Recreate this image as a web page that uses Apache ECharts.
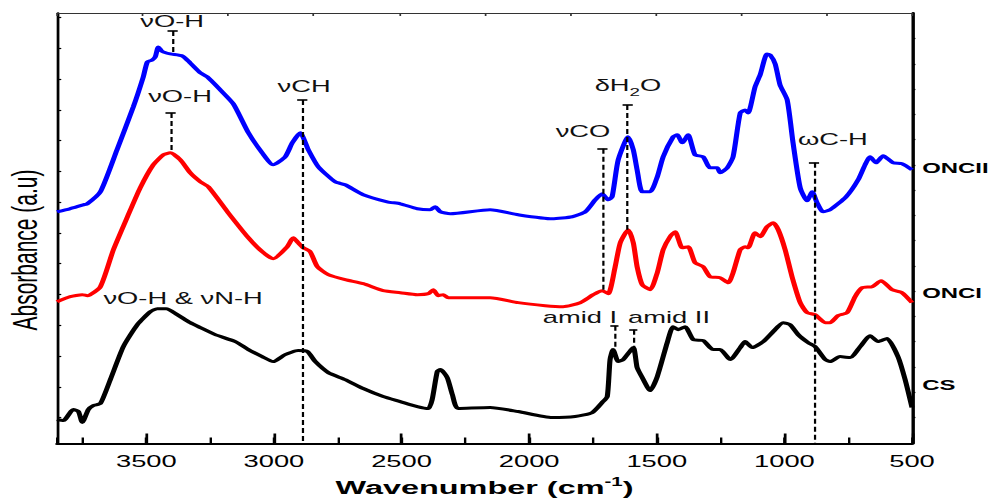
<!DOCTYPE html>
<html><head><meta charset="utf-8">
<script src="https://cdn.jsdelivr.net/npm/echarts@6/dist/echarts.min.js"></script>
<style>
html,body{margin:0;padding:0;background:#fff;overflow:hidden;width:990px;height:502px;}
#chart{width:580px;height:502px;transform:scaleX(1.706897);transform-origin:0 0;}
</style></head>
<body><div id="chart"></div>
<script>
// ---- data (wavenumber in cm-1, absorbance in arbitrary units) ----
const ONCII_wn = [3850,3800,3747,3731,3680,3615,3551,3512,3496,3477,3465,3453,3440,3433,3406,3359,3328,3288,3261,3210,3159,3100,3046,3003,2956,2928,2897,2865,2826,2760,2721,2650,2556,2505,2438,2388,2368,2348,2309,2153,2043,1910,1831,1780,1741,1714,1690,1675,1651,1612,1592,1577,1557,1526,1498,1475,1436,1420,1400,1377,1350,1318,1291,1263,1252,1224,1201,1173,1154,1142,1115,1095,1068,1056,1036,1017,989,966,938,911,891,872,848,821,758,711,684,664,641,613,574,539,500];
const ONCII_abs = [2.32,2.35,2.39,2.40,2.52,2.94,3.37,3.67,3.82,3.84,3.87,3.97,3.93,3.92,3.90,3.88,3.81,3.71,3.67,3.54,3.40,3.11,2.91,2.79,2.87,3.01,3.11,2.94,2.77,2.62,2.59,2.49,2.42,2.40,2.35,2.34,2.37,2.32,2.30,2.34,2.29,2.25,2.27,2.32,2.44,2.50,2.44,2.47,2.84,3.07,2.94,2.74,2.52,2.52,2.67,2.87,3.07,3.09,3.01,3.09,2.89,2.87,2.76,2.76,2.71,2.76,2.87,3.31,3.34,3.31,3.57,3.69,3.90,3.89,3.80,3.59,3.44,3.01,2.56,2.43,2.52,2.41,2.32,2.34,2.47,2.64,2.79,2.87,2.81,2.88,2.81,2.80,2.74];

const ONCI_wn = [3850,3798,3751,3731,3680,3629,3574,3524,3473,3433,3406,3367,3328,3288,3257,3179,3100,3046,3003,2948,2924,2905,2885,2858,2830,2787,2721,2650,2572,2505,2438,2395,2376,2356,2337,2317,2153,2043,1937,1867,1800,1749,1714,1690,1663,1643,1612,1592,1577,1557,1526,1498,1475,1448,1428,1400,1377,1350,1318,1291,1252,1220,1201,1173,1154,1142,1115,1095,1068,1044,1024,997,970,938,911,880,840,821,790,754,723,695,656,621,578,539,500];
const ONCI_abs = [1.42,1.47,1.49,1.48,1.57,1.94,2.27,2.56,2.79,2.89,2.91,2.84,2.71,2.62,2.57,2.31,2.06,1.92,1.85,1.97,2.06,2.01,1.96,1.92,1.77,1.69,1.64,1.60,1.53,1.51,1.49,1.50,1.54,1.48,1.49,1.46,1.46,1.41,1.38,1.37,1.41,1.49,1.53,1.50,1.77,2.01,2.14,2.01,1.77,1.59,1.54,1.71,1.94,2.07,2.12,1.96,1.97,1.81,1.77,1.67,1.66,1.61,1.71,1.94,1.97,1.96,2.11,2.07,2.17,2.21,2.14,1.94,1.67,1.41,1.31,1.29,1.21,1.21,1.28,1.31,1.47,1.56,1.57,1.63,1.54,1.51,1.41];

const CS_wn = [3850,3825,3786,3766,3751,3727,3708,3680,3641,3590,3535,3484,3457,3422,3379,3328,3288,3230,3151,3100,3046,3003,2956,2905,2869,2838,2787,2721,2650,2572,2505,2438,2395,2380,2360,2348,2321,2301,2278,2153,2043,1910,1820,1753,1714,1694,1683,1671,1651,1632,1592,1577,1557,1526,1498,1459,1436,1416,1389,1357,1318,1279,1252,1212,1173,1154,1126,1083,1044,1005,978,946,907,880,840,821,782,742,703,664,633,598,555,527,500];
const CS_abs = [0.24,0.23,0.34,0.32,0.21,0.34,0.38,0.40,0.64,0.97,1.19,1.32,1.35,1.35,1.29,1.21,1.16,1.09,1.02,0.94,0.87,0.82,0.89,0.93,0.92,0.82,0.71,0.64,0.55,0.47,0.42,0.37,0.35,0.44,0.72,0.74,0.66,0.49,0.35,0.36,0.32,0.26,0.27,0.31,0.41,0.47,0.84,0.94,0.82,0.84,0.96,0.76,0.66,0.53,0.67,1.01,1.17,1.14,1.17,1.04,1.03,0.94,0.94,0.84,0.96,1.02,0.96,1.02,1.12,1.21,1.19,1.09,1.01,0.97,0.84,0.82,0.87,0.86,0.97,1.08,1.02,1.05,0.87,0.64,0.36];

const seriesNames = ['ONCII','ONCI','CS'];
const seriesNameAbs = [2.76, 1.51, 0.59];

const xTickValues = [500,1000,1500,2000,2500,3000,3500];

// band annotations
const annoText = ['νO-H','νO-H','νCH','νCO','δH2O','ωC-H','amid I','amid II','νO-H & νN-H'];
const annoTextWn = [3399,3368,2882,1789,1613,810,1801,1452,3356];
const annoTextAbs = [4.22,3.47,3.57,3.12,3.58,3.04,1.26,1.26,1.45];
const bandWn = [3397,3405,2889,1713,1614,884,1666,1592];
const bandTopAbs = [4.13,3.31,3.44,2.95,3.39,2.81,1.18,1.14];
const bandEndAbs = [3.90,2.92,0,1.53,2.14,0,0.94,0.96];

const FONT = '"Liberation Sans", Arial, sans-serif';
const zip = (xs, ys) => xs.map((x, i) => [x, ys[i]]);

const chart = echarts.init(document.getElementById('chart'), null, {renderer: 'svg'});

const bandLines = [];
bandWn.forEach((w, i) => {
  bandLines.push([{coord: [w, bandTopAbs[i]], lineStyle: {type: [5, 3], width: 1.3, color: '#000'}}, {coord: [w, bandEndAbs[i]]}]);
  const h = i < 6 ? 20 : 16;
  bandLines.push([{coord: [w - h, bandTopAbs[i]], lineStyle: {type: 'solid', width: 1.6, color: '#000'}}, {coord: [w + h, bandTopAbs[i]]}]);
});

const textFor = t => t === 'δH2O' ? '{t|δH}{s|2}{t|O}' : '{t|' + t + '}';
const annoPoints = annoText.map((t, i) => ({
  coord: [annoTextWn[i], annoTextAbs[i]],
  label: {formatter: textFor(t)}
}));

const colors = ['#0000ff', '#ff0000', '#000000'];
const datasets = [zip(ONCII_wn, ONCII_abs), zip(ONCI_wn, ONCI_abs), zip(CS_wn, CS_abs)];

const series = datasets.map((d, i) => ({
  name: seriesNames[i],
  type: 'line',
  xAxisIndex: 0,
  yAxisIndex: 2,
  data: d,
  smooth: 0.2,
  showSymbol: false,
  symbol: 'none',
  silent: true,
  z: 2 + i,
  lineStyle: {color: colors[i], width: 3},
  itemStyle: {color: colors[i]},
  markPoint: {
    symbol: 'circle', symbolSize: 0, silent: true,
    data: [{coord: [500, seriesNameAbs[i]]}],
    label: {show: true, formatter: seriesNames[i], position: 'right', distance: 6,
            fontFamily: FONT, fontWeight: 'bold', fontSize: 14, color: '#000'}
  }
}));

series.push({
  name: 'annotations',
  type: 'line',
  xAxisIndex: 0,
  yAxisIndex: 2,
  data: [[500, null]],
  showSymbol: false,
  symbol: 'none',
  silent: true,
  z: 10,
  lineStyle: {width: 0},
  markLine: {silent: true, symbol: ['none', 'none'], label: {show: false}, data: bandLines},
  markPoint: {
    symbol: 'circle', symbolSize: 0, silent: true,
    data: annoPoints,
    label: {show: true, position: 'inside', align: 'center', verticalAlign: 'middle', color: '#111',
            rich: {t: {fontFamily: FONT, fontSize: 16, color: '#111', lineHeight: 18},
                   s: {fontFamily: FONT, fontSize: 11, color: '#111', verticalAlign: 'bottom', lineHeight: 24}}}
  }
});

chart.setOption({
  animation: false,
  backgroundColor: '#fff',
  grid: {left: 33.39, right: 45.70, top: 13, bottom: 58},
  xAxis: [
    {type: 'value', position: 'bottom', min: 500, max: 3850, interval: 500, inverse: true,
     axisLine: {onZero: false, lineStyle: {color: '#000', width: 2.2}},
     axisTick: {inside: true, length: 10, lineStyle: {color: '#000', width: 1.6}},
     axisLabel: {margin: 10, fontFamily: FONT, fontSize: 16, color: '#000', showMaxLabel: false,
                 formatter: v => (xTickValues.indexOf(v) >= 0 ? String(v) : '')},
     splitLine: {show: false},
     name: '{t|Wavenumber (cm}{s|-1}{t|)}', nameLocation: 'middle', nameGap: 33,
     nameTextStyle: {rich: {
       t: {fontFamily: FONT, fontSize: 19, fontWeight: 'bold', color: '#000', lineHeight: 22},
       s: {fontFamily: FONT, fontSize: 12, fontWeight: 'bold', color: '#000', verticalAlign: 'top', lineHeight: 22}
     }}},
    {type: 'value', position: 'bottom', min: 500, max: 3850, interval: 250, inverse: true,
     axisLine: {show: false, onZero: false},
     axisTick: {inside: true, length: 6, lineStyle: {color: '#000', width: 1.4}},
     axisLabel: {show: false}, splitLine: {show: false}},
    {type: 'value', position: 'top', min: 0, max: 10, interval: 1, inverse: true,
     axisLine: {onZero: false, lineStyle: {color: '#333', width: 1}},
     axisTick: {inside: true, length: 3, lineStyle: {color: '#333', width: 1}},
     axisLabel: {show: false}, splitLine: {show: false}}
  ],
  yAxis: [
    {type: 'value', position: 'left', min: -0.844, max: 13.15,
     axisLine: {show: true, onZero: false, lineStyle: {color: '#000', width: 1.6}},
     axisTick: {show: true, inside: true, length: 2.5, customValues: [0,1,2,3,4,5,6,7,8,9,10,11,12,13], lineStyle: {color: '#000', width: 1.2}},
     axisLabel: {show: false}, splitLine: {show: false}},
    {type: 'value', position: 'right', min: -1.028, max: 16.01,
     axisLine: {show: true, onZero: false, lineStyle: {color: '#000', width: 2}},
     axisTick: {show: true, inside: false, length: 2, customValues: [0,1,2,3,4,5,6,7,8,9,10,11,12,13,14,15], lineStyle: {color: '#000', width: 1.2}},
     axisLabel: {show: false}, splitLine: {show: false}},
    {type: 'value', min: 0, max: 4.31, show: false}
  ],
  graphic: [{
    type: 'text', x: 14.1, y: 250, rotation: Math.PI / 2, silent: true,
    style: {text: 'Absorbance (a.u)', fontFamily: FONT, fontSize: 21, fill: '#000',
            align: 'center', verticalAlign: 'middle', textAlign: 'center', textVerticalAlign: 'middle'}
  }],
  series: series
});
</script>
</body></html>
